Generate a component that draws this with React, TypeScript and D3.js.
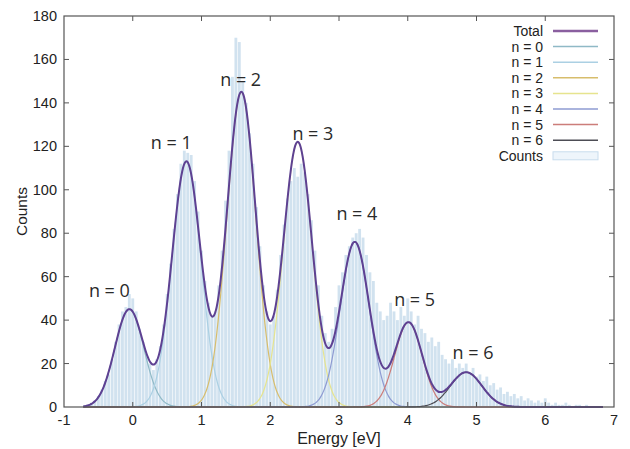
import React from "react";
import * as d3 from "d3";

// histogram: bins of 0.05 eV starting at -0.70 eV (bin centres)
const binStart = -0.7;
const binWidth = 0.05;
const counts = [
  0, 1, 2, 3, 5, 8, 12, 15, 22, 30,
  38, 44, 46, 52, 50, 44, 36, 30, 24, 20,
  17, 22, 28, 38, 52, 66, 82, 98, 112, 118,
  117, 116, 104, 90, 72, 58, 48, 42, 44, 56,
  72, 95, 118, 152, 170, 168, 150, 140, 126, 112,
  92, 74, 56, 44, 38, 42, 54, 70, 84, 96,
  104, 110, 106, 112, 108, 98, 86, 72, 56, 42,
  34, 30, 36, 46, 56, 62, 70, 74, 78, 80,
  82, 78, 70, 62, 58, 48, 44, 40, 42, 48,
  44, 40, 46, 42, 50, 44, 38, 42, 36, 34,
  30, 32, 28, 30, 24, 22, 20, 22, 18, 20,
  18, 20, 16, 18, 14, 15, 12, 14, 10, 11,
  8, 9, 6, 7, 5, 6, 4, 5, 3, 4,
  3, 2, 3, 2, 4, 2, 1, 2, 1, 1,
  2, 1, 0, 1, 1, 0, 1, 0, 0, 0, 0
];

// fitted gaussian components n = 0..6
const peakCenters = [-0.05, 0.78, 1.58, 2.4, 3.23, 4.01, 4.85];
const peakHeights = [45, 113, 145, 122, 76, 39, 16];
const peakWidths = [0.21, 0.21, 0.21, 0.21, 0.21, 0.2, 0.23];
const peakNames = ["n = 0", "n = 1", "n = 2", "n = 3", "n = 4", "n = 5", "n = 6"];
const peakColors = ["#8fb9c6", "#abd0e3", "#d7bd6c", "#e6e48e", "#8e9bd2", "#cc7d7a", "#4d4d55"];

// annotation anchors (energy, counts)
const labelEnergy = [-0.34, 0.56, 1.57, 2.62, 3.26, 4.1, 4.95];
const labelCount = [50.5, 119, 148, 123, 86, 46.5, 22];

const totalColor = "#5e4192";
const xTicks = [-1, 0, 1, 2, 3, 4, 5, 6, 7];
const yTicks = [0, 20, 40, 60, 80, 100, 120, 140, 160, 180];

const FitChart = () => {
  const ref = React.useRef<SVGSVGElement>(null);

  React.useEffect(() => {
    const width = 630;
    const height = 449;
    const margin = { left: 64, right: 16, top: 16, bottom: 42 };
    const font = "'Liberation Sans', Arial, Helvetica, sans-serif";

    const svg = d3.select(ref.current);
    svg.selectAll("*").remove();

    const x = d3.scaleLinear().domain([-1, 7]).range([margin.left, width - margin.right]);
    const y = d3.scaleLinear().domain([0, 180]).range([height - margin.bottom, margin.top]);

    // histogram bars
    const bw = x(binWidth) - x(0);
    svg.append("g")
      .selectAll("rect")
      .data(counts)
      .join("rect")
      .attr("x", (d, i) => x(binStart + i * binWidth - binWidth / 2) + 0.3)
      .attr("width", bw - 0.6)
      .attr("y", d => y(d))
      .attr("height", d => y(0) - y(d))
      .attr("fill", "#d1e2ef");

    const gauss = (e: number, k: number) =>
      peakHeights[k] * Math.exp(-((e - peakCenters[k]) ** 2) / (2 * peakWidths[k] ** 2));
    const grid = d3.range(-0.72, 6.86, 0.02);
    const line = d3.line<number[]>().x(d => x(d[0])).y(d => y(d[1])).curve(d3.curveMonotoneX);

    // components
    peakCenters.forEach((c, k) => {
      svg.append("path")
        .attr("d", line(grid.map(e => [e, gauss(e, k)])))
        .attr("fill", "none")
        .attr("stroke", peakColors[k])
        .attr("stroke-width", 1.2);
    });

    // total
    svg.append("path")
      .attr("d", line(grid.map(e => [e, d3.sum(peakCenters, (c, k) => gauss(e, k))])))
      .attr("fill", "none")
      .attr("stroke", totalColor)
      .attr("stroke-width", 2);

    // frame + mirrored inward ticks
    const x0 = margin.left, x1 = width - margin.right, y0 = height - margin.bottom, y1 = margin.top;
    const ticks = svg.append("g").attr("stroke", "#555").attr("stroke-width", 1);
    xTicks.slice(1, -1).forEach(t => {
      ticks.append("line").attr("x1", x(t)).attr("x2", x(t)).attr("y1", y0).attr("y2", y0 - 5);
      ticks.append("line").attr("x1", x(t)).attr("x2", x(t)).attr("y1", y1).attr("y2", y1 + 5);
    });
    yTicks.slice(1, -1).forEach(t => {
      ticks.append("line").attr("x1", x0).attr("x2", x0 + 5).attr("y1", y(t)).attr("y2", y(t));
      ticks.append("line").attr("x1", x1).attr("x2", x1 - 5).attr("y1", y(t)).attr("y2", y(t));
    });
    svg.append("rect")
      .attr("x", x0).attr("y", y1).attr("width", x1 - x0).attr("height", y0 - y1)
      .attr("fill", "none").attr("stroke", "#555").attr("stroke-width", 1.2);

    // tick labels
    svg.append("g")
      .selectAll("text")
      .data(xTicks)
      .join("text")
      .attr("x", d => x(d))
      .attr("y", y0 + 18)
      .attr("text-anchor", "middle")
      .attr("font-family", font).attr("font-size", 14.5).attr("fill", "#222")
      .text(d => d);
    svg.append("g")
      .selectAll("text")
      .data(yTicks)
      .join("text")
      .attr("x", x0 - 7)
      .attr("y", d => y(d) + 5)
      .attr("text-anchor", "end")
      .attr("font-family", font).attr("font-size", 14.5).attr("fill", "#222")
      .text(d => d);

    // axis titles
    svg.append("text")
      .attr("x", (x0 + x1) / 2).attr("y", y0 + 37)
      .attr("text-anchor", "middle")
      .attr("font-family", font).attr("font-size", 16).attr("fill", "#222")
      .text("Energy [eV]");
    svg.append("text")
      .attr("transform", `translate(27,${(y0 + y1) / 2}) rotate(-90)`)
      .attr("text-anchor", "middle")
      .attr("font-family", font).attr("font-size", 15.5).attr("fill", "#222")
      .text("Counts");

    // peak annotations
    svg.append("g")
      .selectAll("text")
      .data(peakNames)
      .join("text")
      .attr("x", (d, i) => x(labelEnergy[i]))
      .attr("y", (d, i) => y(labelCount[i]))
      .attr("text-anchor", "middle")
      .attr("font-family", "'Open Sans', 'DejaVu Sans', sans-serif")
      .attr("font-size", 18)
      .attr("fill", "#2a2a2a")
      .text(d => d);

    // legend
    const legendItems = ["Total", ...peakNames, "Counts"];
    const legendColors = [totalColor, ...peakColors, "#c8dced"];
    const lg = svg.append("g").attr("font-family", font).attr("font-size", 14).attr("fill", "#222");
    legendItems.forEach((name, i) => {
      const ly = 31 + i * 15.6;
      lg.append("text").attr("x", 543).attr("y", ly + 5).attr("text-anchor", "end").text(name);
      if (name === "Counts") {
        lg.append("rect").attr("x", 553).attr("y", ly - 4).attr("width", 45).attr("height", 8)
          .attr("fill", "#eef5fb").attr("stroke", "#c8dced");
      } else {
        lg.append("line").attr("x1", 553).attr("x2", 598).attr("y1", ly).attr("y2", ly)
          .attr("stroke", i === 0 ? "#8a5f9f" : legendColors[i])
          .attr("stroke-width", i === 0 ? 2.5 : 1.5);
      }
    });
  }, []);

  return <svg ref={ref} width={630} height={449} style={{ position: "absolute", left: 0, top: 0, background: "#fff" }} />;
};

export default function App() {
  return <FitChart />;
}
